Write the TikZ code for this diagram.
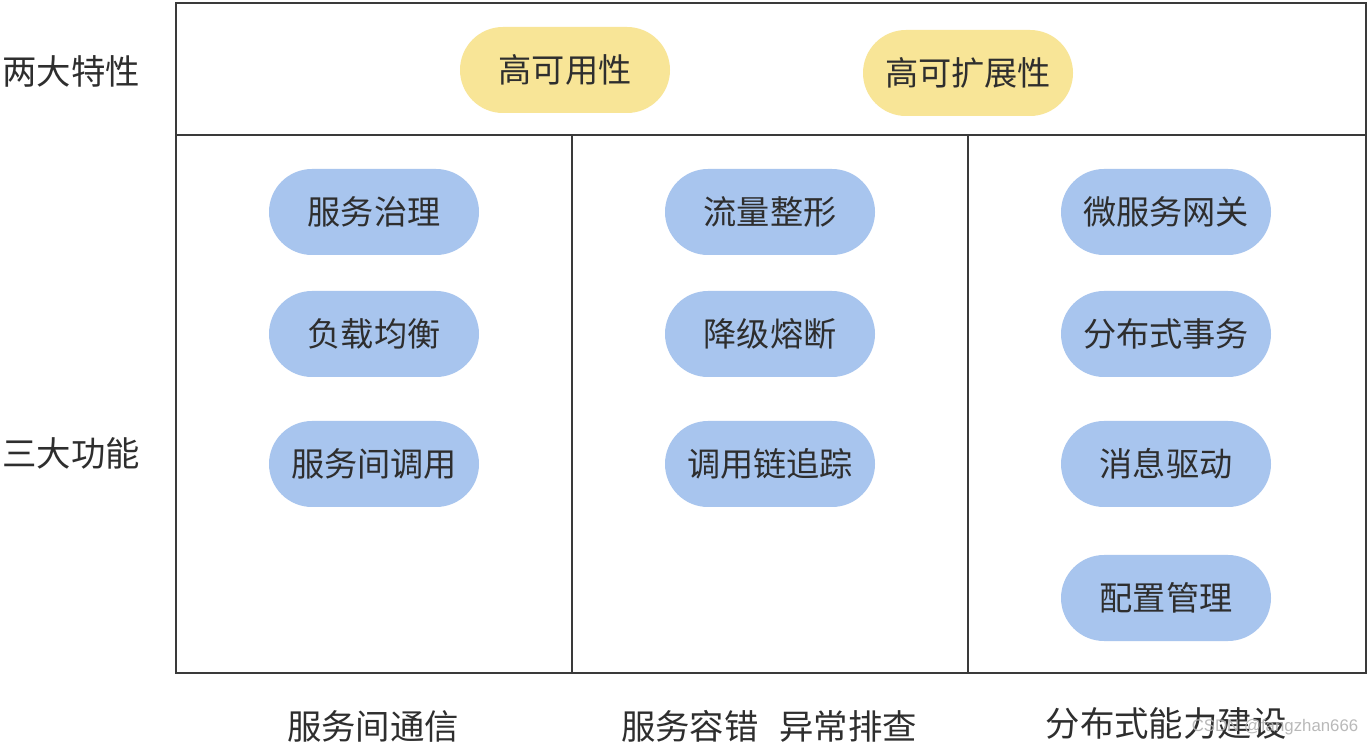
\documentclass[tikz,border=0pt]{standalone}
\usetikzlibrary{shapes.misc}
\usepackage{fontspec}
\newfontfamily\cjk{Noto Sans CJK SC}
\newfontfamily\wm{Liberation Sans}
\definecolor{pillyellow}{HTML}{F8E597}
\definecolor{pillblue}{HTML}{A8C5EE}
\definecolor{txt}{HTML}{2E2E2E}
\definecolor{linec}{HTML}{3A3A3A}
\begin{document}
\begin{tikzpicture}[x=0.5pt,y=-0.5pt,
  pill/.style={rounded rectangle, minimum width=105pt, minimum height=43pt, inner sep=0pt, text=txt, font=\cjk\fontsize{16.6pt}{18pt}\selectfont},
  ypill/.style={pill, fill=pillyellow},
  bpill/.style={pill, fill=pillblue},
  lbl/.style={text=txt, inner sep=0pt, font=\cjk\fontsize{17.2pt}{19pt}\selectfont},
  frame/.style={draw=linec, line width=0.75pt}]
\useasboundingbox (0,0) rectangle (1369,747);
\fill[white] (0,0) rectangle (1369,747);
% frame
\coordinate (tl) at (176,3);
\coordinate (br) at (1366,673);
\draw[frame] (tl) rectangle (br);
\coordinate (h1) at (176,135);
\coordinate (h2) at (1366,135);
\draw[frame] (h1) -- (h2);
\coordinate (v1t) at (572,135);
\coordinate (v1b) at (572,673);
\coordinate (v2t) at (968,135);
\coordinate (v2b) at (968,673);
\draw[frame] (v1t) -- (v1b);
\draw[frame] (v2t) -- (v2b);
% side labels
\node[lbl] (s1) at (71,71) {两大特性};
\node[lbl] (s2) at (71,453) {三大功能};
% top pills
\node[ypill] (y1) at (565,70) {高可用性};
\node[ypill] (y2) at (968,73) {高可扩展性};
% column 1
\node[bpill] (a1) at (374,212) {服务治理};
\node[bpill] (a2) at (374,334) {负载均衡};
\node[bpill] (a3) at (374,464) {服务间调用};
% column 2
\node[bpill] (b1) at (770,212) {流量整形};
\node[bpill] (b2) at (770,334) {降级熔断};
\node[bpill] (b3) at (770,464) {调用链追踪};
% column 3
\node[bpill] (c1) at (1166,212) {微服务网关};
\node[bpill] (c2) at (1166,334) {分布式事务};
\node[bpill] (c3) at (1166,464) {消息驱动};
\node[bpill] (c4) at (1166,598) {配置管理};
% bottom labels
\node[lbl] (l1) at (373,726) {服务间通信};
\node[lbl] (l2) at (769,726) {服务容错\hspace{0.6em}异常排查};
\node[lbl] (l3) at (1166,723) {分布式能力建设};
\node[text=black!30, opacity=0.9, inner sep=0pt, font=\wm\fontsize{8.4pt}{10pt}\selectfont] (w) at (1275,727) {CSDN @fangzhan666};
\end{tikzpicture}
\end{document}
